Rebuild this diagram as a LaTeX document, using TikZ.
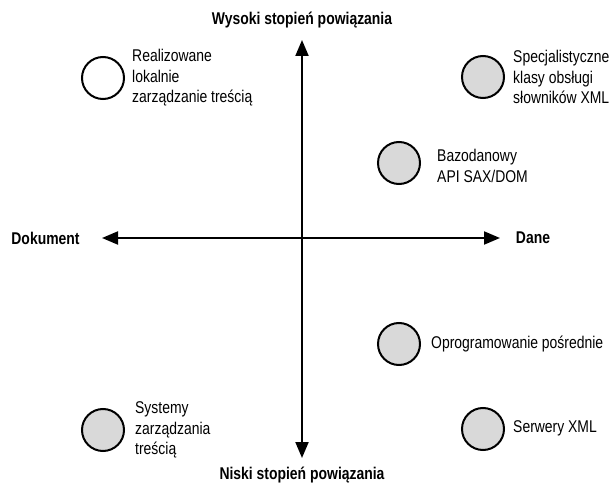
\documentclass[tikz,border=0pt]{standalone}
\usepackage{fontspec}
\setmainfont{Liberation Sans}[FakeStretch=0.82]
\usetikzlibrary{arrows.meta}
\begin{document}
\begin{tikzpicture}[x=1pt,y=-1pt,
  dot/.style={circle,draw=black,line width=2pt,minimum size=42pt,inner sep=0pt,fill=black!15},
  opendot/.style={dot,fill=white},
  lbl/.style={anchor=west,inner sep=0pt,align=left,font=\fontsize{17}{20.5}\selectfont},
  axlbl/.style={inner sep=0pt,font=\fontsize{17}{20.5}\selectfont\bfseries},
  axis/.style={line width=2pt,{Triangle[length=16pt,width=13pt]}-{Triangle[length=16pt,width=13pt]}}]
\useasboundingbox (0,0) rectangle (611,484);
% axes
\coordinate (top) at (302,40);
\coordinate (bot) at (302,458);
\coordinate (left) at (102,238);
\coordinate (right) at (500,238);
\draw[axis] (bot) -- (top);
\draw[axis] (left) -- (right);
\node[axlbl] (wys) at (302,20) {Wysoki stopień powiązania};
\node[axlbl] (nis) at (302,475) {Niski stopień powiązania};
\node[axlbl] (dok) at (45.5,238) {Dokument};
\node[axlbl] (dan) at (533,238) {Dane};
% items
\node[opendot] (c1) at (103,78) {};
\node[lbl] (t1) at (132,78) {Realizowane\\lokalnie\\zarządzanie treścią};
\node[dot] (c2) at (483,77) {};
\node[lbl] (t2) at (513,77) {Specjalistyczne\\klasy obsługi\\słowników XML};
\node[dot] (c3) at (399,163) {};
\node[lbl] (t3) at (437,166) {Bazodanowy\\API SAX/DOM};
\node[dot] (c4) at (399,344) {};
\node[lbl] (t4) at (431,344) {Oprogramowanie pośrednie};
\node[dot] (c5) at (483,429) {};
\node[lbl] (t5) at (513,428) {Serwery XML};
\node[dot] (c6) at (103,430) {};
\node[lbl] (t6) at (135,430) {Systemy\\zarządzania\\treścią};
\end{tikzpicture}
\end{document}
